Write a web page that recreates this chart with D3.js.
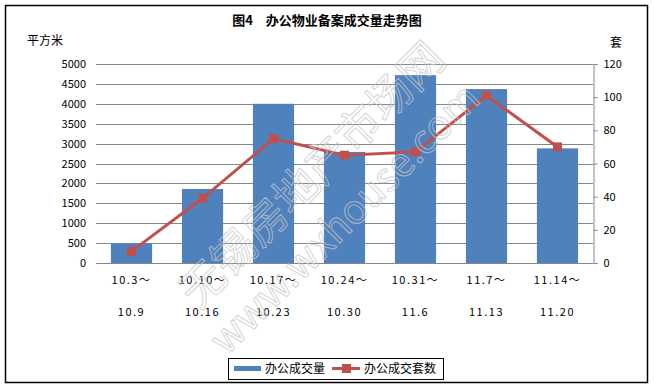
<!DOCTYPE html>
<html>
<head>
<meta charset="utf-8">
<script src="https://cdn.jsdelivr.net/npm/d3@7"></script>
<style>
  body { margin: 0; background: #fff; }
  text { font-family: "Noto Sans CJK SC", "DejaVu Sans", sans-serif; }
</style>
</head>
<body>
<svg id="chart"></svg>
<script>
// weekly office filings
var weeksTop = ["10.3～", "10.10～", "10.17～", "10.24～", "10.31～", "11.7～", "11.14～"];
var weeksBottom = ["10.9", "10.16", "10.23", "10.30", "11.6", "11.13", "11.20"];
var areaValues = [490, 1860, 4000, 2790, 4720, 4370, 2880];   // 平方米
var unitValues = [7, 39, 75, 65, 67, 101, 70];                 // 套
var leftTicks = [0, 500, 1000, 1500, 2000, 2500, 3000, 3500, 4000, 4500, 5000];
var rightTicks = [0, 20, 40, 60, 80, 100, 120];

var width = 654, height = 388;
var plotL = 96, plotR = 593, plotT = 64, plotB = 263;

var svg = d3.select("#chart").attr("width", width).attr("height", height);

// outer frame
svg.append("rect").attr("x", 5.5).attr("y", 5.5)
    .attr("width", 642).attr("height", 377)
    .attr("fill", "#fff").attr("stroke", "#000").attr("stroke-width", 1.5);

var x = d3.scaleBand().domain(weeksTop).range([plotL, plotR]).paddingInner(0.42).paddingOuter(0.21);
var yL = d3.scaleLinear().domain([0, 5000]).range([plotB, plotT]);
var yR = d3.scaleLinear().domain([0, 120]).range([plotB, plotT]);

// gridlines
svg.append("g").selectAll("line").data(leftTicks).enter().append("line")
    .attr("x1", plotL).attr("x2", plotR)
    .attr("y1", function(d){ return Math.round(yL(d)) + 0.5; })
    .attr("y2", function(d){ return Math.round(yL(d)) + 0.5; })
    .attr("stroke", "#868686").attr("stroke-width", 1);

// left labels
svg.append("g").selectAll("text").data(leftTicks).enter().append("text")
    .attr("x", 86).attr("y", function(d){ return yL(d) + 4; })
    .attr("text-anchor", "end").attr("font-size", 11)
    .text(function(d){ return d; });

// right axis
var rAxis = svg.append("g").attr("transform", "translate(" + (plotR + 0.5) + ",0)")
    .call(d3.axisRight(yR).tickValues(rightTicks).tickSize(4).tickPadding(6));
rAxis.select(".domain").attr("stroke", "#868686");
rAxis.selectAll(".tick line").attr("stroke", "#868686");
rAxis.selectAll(".tick text").attr("font-size", 11).attr("fill", "#000")
    .attr("font-family", "Noto Sans CJK SC, DejaVu Sans, sans-serif");

// bars
svg.append("g").selectAll("rect").data(areaValues).enter().append("rect")
    .attr("x", function(d, i){ return x(weeksTop[i]); })
    .attr("y", function(d){ return yL(d); })
    .attr("width", x.bandwidth())
    .attr("height", function(d){ return plotB - yL(d); })
    .attr("fill", "#4F81BD");

// baseline
svg.append("line").attr("x1", plotL).attr("x2", plotR)
    .attr("y1", plotB + 0.5).attr("y2", plotB + 0.5)
    .attr("stroke", "#868686");

// line series
var line = d3.line()
    .x(function(d, i){ return x(weeksTop[i]) + x.bandwidth() / 2; })
    .y(function(d){ return yR(d); });
svg.append("path").datum(unitValues).attr("d", line)
    .attr("fill", "none").attr("stroke", "#C0504D").attr("stroke-width", 3);
svg.append("g").selectAll("rect").data(unitValues).enter().append("rect")
    .attr("x", function(d, i){ return x(weeksTop[i]) + x.bandwidth() / 2 - 4.5; })
    .attr("y", function(d){ return yR(d) - 4.5; })
    .attr("width", 9).attr("height", 9)
    .attr("fill", "#C0504D");

// category labels
var cats = svg.append("g").selectAll("g").data(weeksTop).enter().append("g")
    .attr("transform", function(d){ return "translate(" + (x(d) + x.bandwidth() / 2) + ",0)"; });
cats.append("text").attr("y", 284).attr("text-anchor", "middle")
    .attr("font-size", 11).attr("letter-spacing", 1.5)
    .text(function(d){ return d; });
cats.append("text").attr("y", 316).attr("text-anchor", "middle")
    .attr("font-size", 11).attr("letter-spacing", 1.5)
    .text(function(d, i){ return weeksBottom[i]; });

// watermark (drawn over the plot, outline only)
svg.append("g").attr("transform", "translate(312,175) rotate(-45)")
  .selectAll("text").data(["无锡房地产市场网", "www.wxhouse.com"]).enter().append("text")
    .attr("x", function(d, i){ return i ? -8 : 0; })
    .attr("y", function(d, i){ return i ? 54 : 0; })
    .attr("dy", "0.35em")
    .attr("text-anchor", "middle").attr("font-size", function(d, i){ return i ? 40 : 44; })
    .attr("fill", "none").attr("stroke", "#c8c8c8").attr("stroke-width", 1).attr("opacity", 0.75)
    .text(function(d){ return d; });

// titles
svg.append("text").attr("x", 327).attr("y", 25).attr("text-anchor", "middle")
    .attr("font-size", 13).attr("font-weight", "bold")
    .text("图4　办公物业备案成交量走势图");
svg.append("text").attr("x", 27).attr("y", 45).attr("font-size", 12).text("平方米");
svg.append("text").attr("x", 610).attr("y", 47).attr("font-size", 12).text("套");

// legend
var lg = svg.append("g");
lg.append("rect").attr("x", 228.5).attr("y", 358.5).attr("width", 215).attr("height", 21)
    .attr("fill", "#fff").attr("stroke", "#000");
lg.append("rect").attr("x", 234).attr("y", 366).attr("width", 27).attr("height", 5).attr("fill", "#4F81BD");
lg.append("text").attr("x", 265).attr("y", 373).attr("font-size", 12).text("办公成交量");
lg.append("line").attr("x1", 332).attr("x2", 360).attr("y1", 368.5).attr("y2", 368.5)
    .attr("stroke", "#C0504D").attr("stroke-width", 3);
lg.append("rect").attr("x", 342).attr("y", 364).attr("width", 9).attr("height", 9).attr("fill", "#C0504D");
lg.append("text").attr("x", 364).attr("y", 373).attr("font-size", 12).text("办公成交套数");
</script>
</body>
</html>
